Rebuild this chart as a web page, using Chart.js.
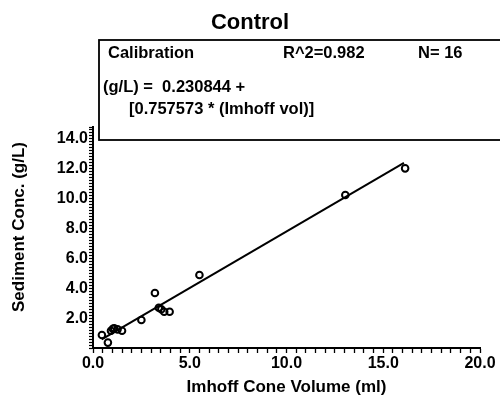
<!DOCTYPE html>
<html>
<head>
<meta charset="utf-8">
<script src="https://cdn.jsdelivr.net/npm/chart.js@4/dist/chart.umd.min.js"></script>
<style>
  html, body { margin: 0; padding: 0; background: #fff; }
  #wrap { width: 500px; height: 401px; position: relative; }
</style>
</head>
<body>
<div id="wrap"><canvas id="c" width="500" height="401"></canvas></div>
<script>
// ---- data ----
const imhoffVolume = [0.46, 0.77, 0.93, 1.03, 1.10, 1.27, 1.50, 2.50, 3.20, 3.40, 3.53, 3.68, 3.96, 5.50, 13.04, 16.13];
const sedimentConc = [0.87, 0.36, 1.16, 1.28, 1.32, 1.25, 1.16, 1.88, 3.68, 2.70, 2.59, 2.43, 2.43, 4.89, 10.25, 12.03];
const fitIntercept = 0.230844;
const fitSlope = 0.757573;
const fitXRange = [0.45, 16.07];
const xTickLabels = ['0.0', '5.0', '10.0', '15.0', '20.0'];
const yTickLabels = ['2.0', '4.0', '6.0', '8.0', '10.0', '12.0', '14.0'];
const titleText = 'Control';
const boxLines = ['Calibration', 'R^2=0.982', 'N= 16', '(g/L) =  0.230844 +', '[0.757573 * (Imhoff vol)]'];
const xTitle = 'Imhoff Cone Volume (ml)';
const yTitle = 'Sediment Conc. (g/L)';

const points = imhoffVolume.map((x, i) => ({ x: x, y: sedimentConc[i] }));
const fitLine = fitXRange.map(x => ({ x: x, y: fitIntercept + fitSlope * x }));

const FONT = '"Liberation Sans", Arial, Helvetica, sans-serif';

function near(v, t) { return Math.abs(v - t) < 1e-6; }

const overlay = {
  id: 'overlay',
  afterDraw(chart) {
    const ctx = chart.ctx;
    const ca = chart.chartArea;
    ctx.save();
    // Title
    ctx.fillStyle = '#000';
    ctx.font = 'bold 22px ' + FONT;
    ctx.textAlign = 'center';
    ctx.textBaseline = 'alphabetic';
    ctx.fillText(titleText, 250, 29);
    // Box
    ctx.fillStyle = '#fff';
    ctx.fillRect(99, 40, 410, 100);
    ctx.strokeStyle = '#000';
    ctx.lineWidth = 1.8;
    ctx.strokeRect(99, 40, 410, 100);
    ctx.fillStyle = '#000';
    ctx.font = 'bold 16.5px ' + FONT;
    ctx.textAlign = 'left';
    ctx.fillText(boxLines[0], 108, 58);
    ctx.fillText(boxLines[1], 283, 58);
    ctx.fillText(boxLines[2], 418, 58);
    ctx.fillText(boxLines[3], 103, 92);
    ctx.fillText(boxLines[4], 129, 114);
    // Axis titles
    ctx.font = 'bold 17px ' + FONT;
    ctx.textAlign = 'center';
    ctx.textBaseline = 'middle';
    ctx.fillText(xTitle, (ca.left + ca.right) / 2, 387);
    ctx.translate(19, 227);
    ctx.rotate(-Math.PI / 2);
    ctx.fillText(yTitle, 0, 0);
    ctx.restore();
  }
};

new Chart(document.getElementById('c'), {
  type: 'scatter',
  data: {
    datasets: [
      {
        type: 'line',
        data: fitLine,
        borderColor: '#000',
        borderWidth: 2,
        pointRadius: 0,
        fill: false,
        tension: 0
      },
      {
        data: points,
        pointStyle: 'circle',
        pointRadius: 3.3,
        pointBorderWidth: 2,
        pointBorderColor: '#000',
        pointBackgroundColor: 'rgba(0,0,0,0)',
        showLine: false
      }
    ]
  },
  options: {
    responsive: false,
    animation: false,
    devicePixelRatio: 1,
    layout: { padding: { top: 127, right: 20, left: 0, bottom: 0 } },
    plugins: { legend: { display: false }, tooltip: { enabled: false }, title: { display: false } },
    scales: {
      x: {
        type: 'linear',
        min: 0, max: 20,
        afterFit(s) { s.height = 53; },
        border: { display: true, color: '#000', width: 2 },
        grid: { drawOnChartArea: false, drawTicks: true, tickLength: 5, tickColor: '#000', tickWidth: 1.3 },
        ticks: {
          stepSize: 0.5,
          autoSkip: false,
          maxRotation: 0,
          padding: 1,
          color: '#000',
          font: { family: FONT, size: 16, weight: 'bold' },
          callback(v) {
            const idx = Math.round(v / 5);
            return near(v, idx * 5) ? xTickLabels[idx] : '';
          }
        }
      },
      y: {
        type: 'linear',
        min: 0, max: 14.8,
        afterFit(s) { s.width = 93; },
        border: { display: true, color: '#000', width: 2 },
        grid: { drawOnChartArea: false, drawTicks: true, tickLength: 4, tickColor: '#000', tickWidth: 1.2 },
        ticks: {
          stepSize: 0.2,
          autoSkip: false,
          padding: 1,
          color: '#000',
          font: { family: FONT, size: 16, weight: 'bold' },
          callback(v) {
            const idx = Math.round(v / 2);
            return (idx >= 1 && near(v, idx * 2)) ? yTickLabels[idx - 1] : '';
          }
        }
      }
    }
  },
  plugins: [overlay]
});
</script>
</body>
</html>
